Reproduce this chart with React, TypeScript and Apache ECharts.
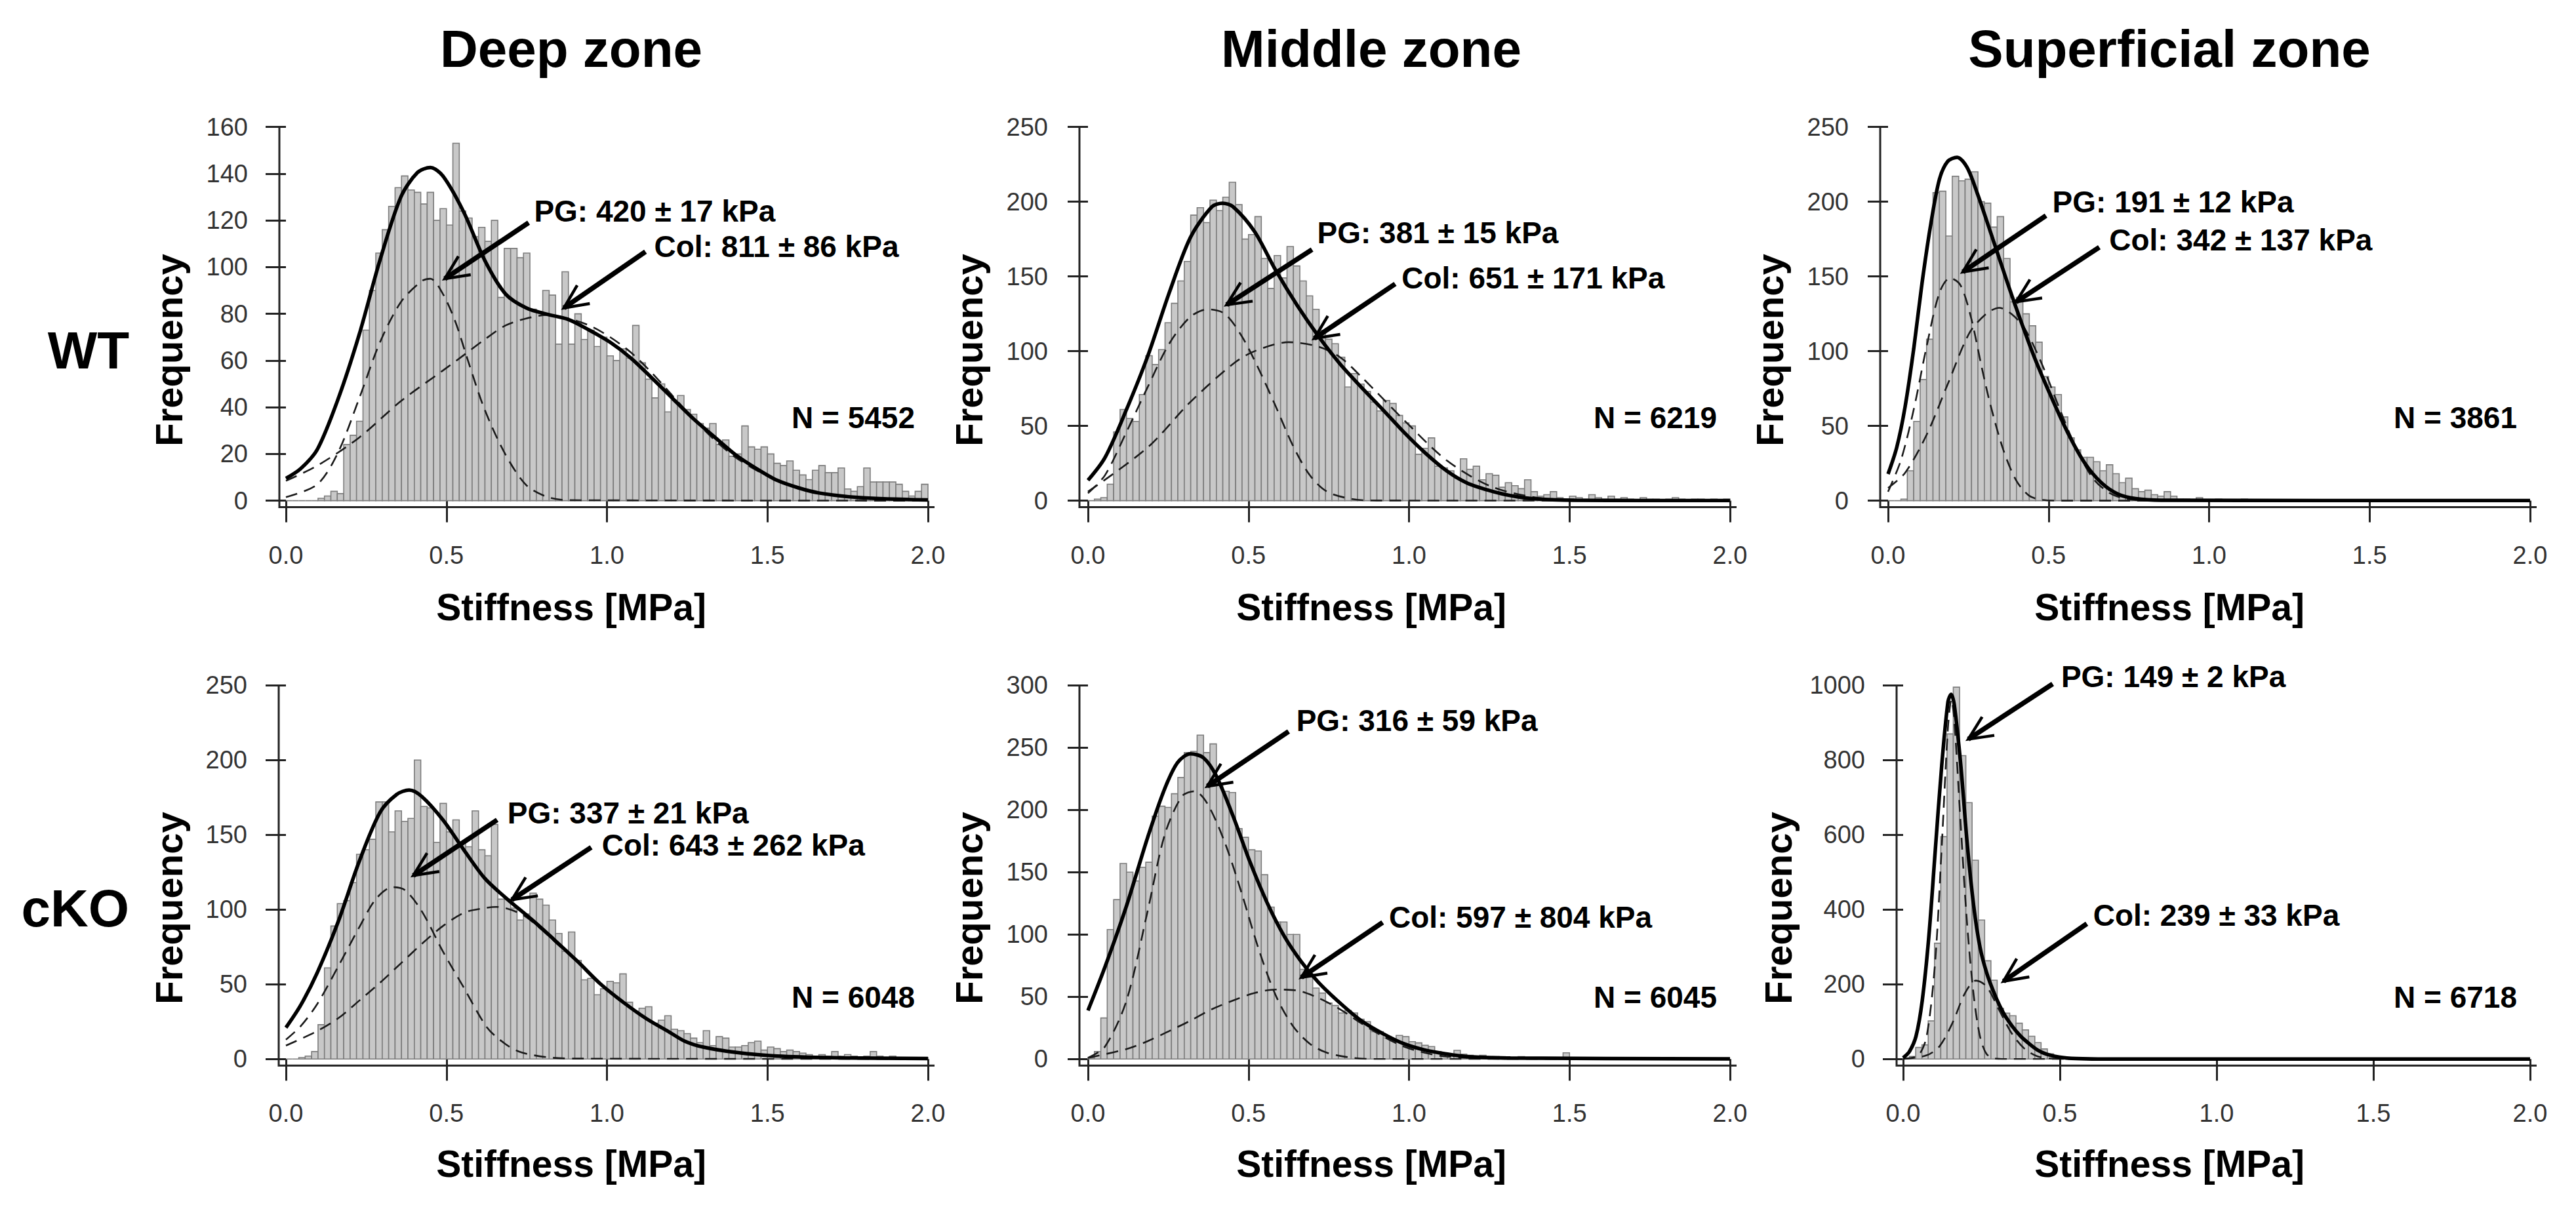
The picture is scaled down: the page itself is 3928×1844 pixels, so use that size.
import React, { useEffect, useRef } from "react";
import * as echarts from "echarts";

// ---------------- data ----------------
const BIN = 0.02;
const COL_TITLES = ["Deep zone", "Middle zone", "Superficial zone"];
const ROW_LABELS = ["WT", "cKO"];
const X_LABEL = "Stiffness [MPa]";
const Y_LABEL = "Frequency";

// histogram counts, 100 bins of 0.02 MPa from 0 to 2.0
const countsWTDeep = [
  0, 0, 0, 0, 0, 1, 2, 4, 3, 24,
  28, 34, 73, 90, 106, 116, 126, 134, 139, 133,
  132, 127, 132, 120, 125, 118, 153, 124, 121, 113,
  117, 111, 120, 87, 108, 108, 104, 106, 82, 81,
  90, 88, 67, 98, 67, 80, 69, 73, 66, 70,
  62, 60, 65, 61, 75, 59, 52, 44, 50, 38,
  43, 45, 39, 37, 33, 31, 33, 24, 26, 19,
  20, 32, 23, 22, 23, 20, 16, 15, 17, 13,
  11, 9, 13, 15, 12, 12, 14, 5, 4, 6,
  14, 8, 8, 8, 8, 7, 4, 2, 4, 7,
];
const countsWTMiddle = [
  0, 1, 2, 11, 46, 61, 55, 53, 71, 97,
  91, 101, 119, 132, 147, 160, 191, 196, 186, 201,
  194, 203, 213, 198, 175, 178, 190, 162, 142, 164,
  149, 170, 157, 147, 137, 128, 114, 108, 105, 96,
  76, 85, 78, 73, 66, 60, 67, 65, 57, 52,
  50, 31, 35, 42, 23, 22, 20, 15, 28, 21,
  23, 14, 18, 17, 9, 12, 10, 8, 14, 6,
  3, 4, 6, 2, 1, 3, 2, 1, 4, 2,
  1, 3, 1, 2, 1, 0, 2, 1, 1, 0,
  1, 2, 1, 0, 1, 1, 0, 1, 0, 1,
];
const countsWTSuperficial = [
  0, 0, 1, 20, 53, 81, 108, 206, 207, 177,
  217, 214, 215, 220, 200, 199, 183, 190, 162, 133,
  136, 125, 117, 106, 83, 76, 71, 56, 42, 34,
  29, 29, 26, 20, 24, 18, 12, 15, 8, 6,
  7, 4, 3, 6, 3, 1, 1, 0, 2, 0,
  0, 1, 0, 0, 0, 1, 0, 0, 0, 0,
  0, 0, 0, 0, 0, 0, 0, 0, 0, 0,
  0, 0, 0, 0, 0, 0, 0, 0, 0, 0,
  0, 0, 0, 0, 0, 0, 0, 0, 0, 0,
  0, 0, 0, 0, 0, 0, 0, 0, 0, 0,
];
const countsKODeep = [
  0, 0, 1, 2, 5, 23, 61, 89, 104, 106,
  118, 137, 140, 147, 172, 172, 152, 166, 159, 161,
  200, 169, 168, 145, 171, 152, 160, 145, 142, 166,
  140, 136, 157, 107, 107, 101, 93, 97, 111, 107,
  103, 93, 84, 72, 85, 66, 53, 54, 43, 47,
  52, 51, 57, 38, 32, 34, 35, 24, 26, 29,
  20, 19, 17, 14, 11, 19, 9, 15, 14, 8,
  8, 9, 11, 12, 6, 8, 7, 5, 6, 5,
  4, 3, 2, 3, 2, 5, 2, 3, 2, 1,
  2, 5, 2, 1, 2, 1, 1, 1, 0, 1,
];
const countsKOMiddle = [
  1, 6, 33, 104, 128, 157, 150, 143, 154, 158,
  195, 203, 202, 213, 226, 246, 247, 260, 246, 253,
  220, 215, 214, 185, 178, 168, 167, 148, 122, 110,
  110, 100, 100, 72, 66, 57, 53, 45, 43, 37,
  39, 37, 32, 30, 22, 22, 17, 16, 19, 18,
  14, 13, 11, 10, 6, 5, 4, 7, 4, 3,
  2, 3, 1, 2, 2, 1, 1, 2, 1, 0,
  1, 1, 0, 1, 5, 0, 0, 1, 0, 1,
  0, 0, 1, 0, 0, 1, 0, 0, 0, 1,
  0, 0, 0, 0, 0, 0, 0, 0, 0, 0,
];
const countsKOSuperficial = [
  3, 7, 31, 38, 102, 310, 595, 870, 995, 812,
  686, 532, 372, 263, 211, 136, 123, 116, 96, 78,
  61, 44, 27, 14, 7, 3, 2, 1, 1, 0,
  1, 0, 1, 0, 0, 0, 0, 0, 0, 0,
  0, 0, 0, 0, 0, 0, 0, 0, 0, 0,
  0, 0, 0, 0, 0, 0, 0, 0, 0, 0,
  0, 0, 0, 0, 0, 0, 0, 0, 0, 0,
  0, 0, 0, 0, 0, 0, 0, 0, 0, 0,
  0, 0, 0, 0, 0, 0, 0, 0, 0, 0,
  0, 0, 0, 0, 0, 0, 0, 0, 0, 0,
];

// fitted curves [stiffness, frequency]
const fitWTDeep = [[0, 9.5], [0.046, 13.7], [0.098, 22], [0.163, 43.7], [0.228, 71], [0.293, 103], [0.358, 130], [0.41, 140.5], [0.45, 142.6], [0.489, 139], [0.554, 123.5], [0.619, 103], [0.684, 88.5], [0.749, 82.5], [0.814, 79.8], [0.879, 77.6], [0.945, 73], [1.01, 67.8], [1.075, 61], [1.14, 52.5], [1.205, 43.7], [1.27, 35], [1.335, 27.3], [1.4, 19.7], [1.466, 13.7], [1.53, 8.7], [1.596, 5.5], [1.66, 3.3], [1.79, 1.3], [2.0, 0.3]];
const pgWTDeep = [[0, 1.5], [0.098, 7], [0.163, 20.8], [0.228, 43.7], [0.293, 67.8], [0.358, 85], [0.423, 94], [0.45, 95], [0.489, 88.5], [0.528, 76.5], [0.567, 60], [0.619, 39], [0.684, 19.7], [0.749, 6.6], [0.814, 1.6], [0.88, 0.2], [2.0, 0]];
const colWTDeep = [[0, 8.5], [0.098, 15], [0.228, 27], [0.358, 42.6], [0.489, 55.7], [0.554, 62.3], [0.619, 69], [0.684, 75], [0.749, 78], [0.814, 79.5], [0.879, 78], [0.945, 75], [1.01, 70], [1.075, 63.4], [1.14, 54.7], [1.205, 44.8], [1.27, 35], [1.335, 26], [1.4, 18.6], [1.466, 13], [1.53, 8.7], [1.66, 3.3], [1.79, 1], [2.0, 0.3]];

const fitWTMiddle = [[0, 13.6], [0.053, 28.8], [0.12, 61], [0.186, 96.6], [0.253, 139], [0.319, 176], [0.386, 196.6], [0.419, 199], [0.452, 196.6], [0.519, 180], [0.585, 154], [0.652, 130.5], [0.718, 110], [0.785, 91.5], [0.851, 76], [0.918, 61], [0.984, 45.8], [1.05, 32], [1.117, 20], [1.18, 11.9], [1.25, 6.8], [1.316, 3.4], [1.383, 1.4], [1.516, 0.3], [2.0, 0]];
const pgWTMiddle = [[0, 5], [0.053, 17], [0.12, 46], [0.186, 76], [0.253, 105], [0.319, 123], [0.372, 128], [0.426, 125], [0.479, 110], [0.532, 88], [0.585, 63], [0.638, 37], [0.691, 17], [0.745, 6], [0.824, 1], [0.9, 0.1], [2.0, 0]];
const colWTMiddle = [[0, 6], [0.186, 35.6], [0.319, 66], [0.452, 91.5], [0.519, 100], [0.625, 106], [0.718, 103], [0.785, 96], [0.851, 83], [0.984, 54], [1.117, 27], [1.25, 10], [1.383, 2.5], [1.516, 0.5], [2.0, 0]];

const fitWTSuperficial = [[0, 17.8], [0.027, 35.6], [0.053, 62.7], [0.08, 101.7], [0.106, 145.8], [0.133, 184.8], [0.16, 215], [0.186, 227], [0.215, 229.7], [0.246, 223], [0.279, 205], [0.319, 179.7], [0.359, 154], [0.399, 129], [0.452, 98], [0.505, 71], [0.559, 45.8], [0.612, 25.4], [0.665, 11.9], [0.718, 4.2], [0.771, 1.4], [0.851, 0.3], [2.0, 0]];
const pgWTSuperficial = [[0, 6], [0.04, 27], [0.08, 61], [0.12, 103], [0.16, 139], [0.193, 149], [0.226, 144], [0.259, 122], [0.293, 88], [0.319, 64], [0.359, 34], [0.399, 13.6], [0.439, 3.4], [0.48, 0.5], [0.55, 0], [2.0, 0]];
const colWTSuperficial = [[0, 8.5], [0.053, 18.6], [0.12, 44], [0.186, 78], [0.253, 112], [0.306, 125], [0.346, 129], [0.386, 124.6], [0.426, 115], [0.479, 91.5], [0.532, 62.7], [0.585, 35.6], [0.638, 15], [0.691, 5], [0.745, 1], [0.82, 0], [2.0, 0]];

const fitKODeep = [[0, 21], [0.046, 36], [0.098, 58], [0.163, 92], [0.228, 132], [0.293, 165], [0.345, 177], [0.384, 180], [0.423, 175.7], [0.489, 160], [0.554, 140], [0.619, 121], [0.684, 108], [0.769, 92.7], [0.84, 79], [0.91, 65], [0.981, 50], [1.052, 37.8], [1.123, 27], [1.194, 18.1], [1.242, 12], [1.3, 8], [1.4, 4.5], [1.53, 2], [1.73, 0.8], [2.0, 0.3]];
const pgKODeep = [[0, 13], [0.046, 22], [0.098, 37], [0.163, 62], [0.228, 88], [0.28, 107], [0.332, 115], [0.371, 113], [0.423, 99], [0.489, 72], [0.554, 47.8], [0.627, 21], [0.684, 10], [0.733, 4.5], [0.814, 1.2], [0.9, 0.3], [2.0, 0]];
const colKODeep = [[0, 9], [0.098, 18.8], [0.163, 27.3], [0.228, 39], [0.293, 51], [0.358, 64], [0.423, 77], [0.489, 89], [0.556, 98], [0.619, 101], [0.655, 101.8], [0.733, 97], [0.8, 86], [0.84, 78], [0.91, 64.5], [0.981, 49.8], [1.052, 37.6], [1.123, 27], [1.194, 18], [1.242, 12], [1.3, 8], [1.4, 4.5], [1.53, 2], [1.73, 0.8], [2.0, 0.3]];

const fitKOMiddle = [[0, 39], [0.053, 74], [0.12, 123], [0.186, 178], [0.239, 217], [0.279, 238], [0.319, 245], [0.359, 242], [0.399, 227.6], [0.452, 195], [0.505, 158], [0.559, 125], [0.612, 98.4], [0.665, 78], [0.718, 61.5], [0.785, 45], [0.851, 30.8], [0.918, 20.5], [0.984, 12.3], [1.05, 7.2], [1.117, 4.1], [1.18, 2], [1.316, 0.8], [2.0, 0.2]];
const pgKOMiddle = [[0, 1], [0.053, 10], [0.12, 47], [0.186, 119], [0.239, 180], [0.293, 211], [0.332, 215], [0.372, 205], [0.426, 174], [0.479, 133], [0.532, 88], [0.585, 51], [0.638, 26.6], [0.691, 12.3], [0.745, 5], [0.824, 1], [0.9, 0], [2.0, 0]];
const colKOMiddle = [[0, 1], [0.12, 8], [0.186, 14.4], [0.253, 22.5], [0.319, 30.8], [0.386, 40], [0.452, 47], [0.519, 53], [0.585, 55.8], [0.652, 55], [0.718, 49], [0.785, 40], [0.851, 28.7], [0.918, 18.4], [0.984, 10], [1.05, 5], [1.117, 2], [1.25, 0.6], [2.0, 0]];

const fitKOSuperficial = [[0, 3.4], [0.02, 20], [0.041, 61], [0.061, 157], [0.082, 328], [0.102, 553], [0.123, 785], [0.143, 956], [0.153, 976], [0.163, 949], [0.184, 785], [0.204, 580], [0.225, 410], [0.245, 300], [0.266, 232], [0.293, 171], [0.32, 123], [0.347, 89], [0.375, 61], [0.402, 41], [0.429, 24], [0.456, 13.6], [0.497, 5.5], [0.552, 1.4], [0.65, 0], [2.0, 0]];
const pgKOSuperficial = [[0, 1], [0.048, 10], [0.075, 61], [0.102, 259], [0.123, 567], [0.143, 887], [0.154, 962], [0.163, 908], [0.184, 621], [0.204, 362], [0.225, 171], [0.245, 61], [0.266, 13.6], [0.293, 1.4], [0.33, 0], [2.0, 0]];
const colKOSuperficial = [[0, 0], [0.075, 10], [0.116, 34], [0.157, 96], [0.198, 177.5], [0.232, 210], [0.266, 194.5], [0.307, 130], [0.347, 68], [0.388, 27], [0.429, 7], [0.47, 1.4], [0.55, 0], [2.0, 0]];

const pgLabels = ["PG: 420 ± 17 kPa", "PG: 381 ± 15 kPa", "PG: 191 ± 12 kPa", "PG: 337 ± 21 kPa", "PG: 316 ± 59 kPa", "PG: 149 ± 2 kPa"];
const colLabels = ["Col: 811 ± 86 kPa", "Col: 651 ± 171 kPa", "Col: 342 ± 137 kPa", "Col: 643 ± 262 kPa", "Col: 597 ± 804 kPa", "Col: 239 ± 33 kPa"];
const nLabels = ["N = 5452", "N = 6219", "N = 3861", "N = 6048", "N = 6045", "N = 6718"];
const yMaxes = [160, 250, 250, 250, 300, 1000];
const yIntervals = [20, 50, 50, 50, 50, 200];

// ---------------- layout ----------------
const W = 3928;
const H = 1844;
const FONT = '"Liberation Sans", Arial, Helvetica, sans-serif';
const AXIS_COLOR = "#222";
const BAR_FILL = "#c8c8c8";
const BAR_STROKE = "#7c7c7c";

const LAYOUT = [
  { x0: 436, x2: 1415, yTop: 193.6, y0: 763.6, yOff: 10, ylabX: 257.5 },
  { x0: 1659, x2: 2638, yTop: 193.6, y0: 763.6, yOff: 13, ylabX: 1477.5 },
  { x0: 2879, x2: 3858, yTop: 193.6, y0: 763.6, yOff: 12, ylabX: 2698.5 },
  { x0: 436, x2: 1415, yTop: 1045.3, y0: 1615.3, yOff: 11, ylabX: 257.5 },
  { x0: 1659, x2: 2638, yTop: 1045.3, y0: 1615.3, yOff: 13, ylabX: 1477.5 },
  { x0: 2902, x2: 3858, yTop: 1045.3, y0: 1615.3, yOff: 10, ylabX: 2711 },
];
const COL_CENTERS = [871, 2091, 3308];
const TITLE_Y = 74;
const XLAB_Y = [926, 1775];
const ROW_Y = [534, 1385];
const ROW_LABEL_RIGHT = 197;
const N_DY = [127, 94];

// annotation anchors in data coordinates: [textX, textY] and arrows [startX, startY, tipX, tipY]
const ANNOT = [
  { pg: [0.773, 124], col: [1.147, 108.8], pgArrow: [0.756, 119, 0.495, 95], colArrow: [1.12, 106.6, 0.866, 82.5] },
  { pg: [0.714, 179], col: [0.977, 149], pgArrow: [0.698, 168, 0.432, 131], colArrow: [0.957, 145, 0.705, 108.5] },
  { pg: [0.512, 200], col: [0.689, 174.6], pgArrow: [0.492, 190.7, 0.233, 153], colArrow: [0.658, 169.5, 0.399, 133] },
  { pg: [0.69, 164.6], col: [0.984, 143], pgArrow: [0.658, 160, 0.397, 122.8], colArrow: [0.951, 141.6, 0.704, 106.6] },
  { pg: [0.649, 271.6], col: [0.9375, 113.8], pgArrow: [0.625, 263, 0.372, 219], colArrow: [0.918, 109.7, 0.665, 65.6] },
  { pg: [0.504, 1024], col: [0.606, 385.6], pgArrow: [0.477, 1004, 0.208, 856], colArrow: [0.586, 362, 0.32, 208] },
];

const PANELS = [
  { counts: countsWTDeep, fit: fitWTDeep, pg: pgWTDeep, col: colWTDeep },
  { counts: countsWTMiddle, fit: fitWTMiddle, pg: pgWTMiddle, col: colWTMiddle },
  { counts: countsWTSuperficial, fit: fitWTSuperficial, pg: pgWTSuperficial, col: colWTSuperficial },
  { counts: countsKODeep, fit: fitKODeep, pg: pgKODeep, col: colKODeep },
  { counts: countsKOMiddle, fit: fitKOMiddle, pg: pgKOMiddle, col: colKOMiddle },
  { counts: countsKOSuperficial, fit: fitKOSuperficial, pg: pgKOSuperficial, col: colKOSuperficial },
];

function textEl(text: string, x: number, y: number, size: number, opts: any = {}) {
  return {
    type: "text",
    x,
    y,
    z: 100,
    rotation: opts.rotation || 0,
    silent: true,
    style: {
      text,
      font: `${opts.weight || "bold"} ${size}px ${FONT}`,
      fill: opts.fill || "#000",
      align: opts.align || "center",
      verticalAlign: "middle",
    },
  };
}

export default function App() {
  const ref = useRef<HTMLDivElement>(null);

  useEffect(() => {
    if (!ref.current) return;
    const chart = echarts.init(ref.current, null, { renderer: "svg" });

    const grids: any[] = [];
    const xAxes: any[] = [];
    const yAxes: any[] = [];
    const series: any[] = [];

    PANELS.forEach((p, i) => {
      const L = LAYOUT[i];
      grids.push({ left: L.x0, top: L.yTop, width: L.x2 - L.x0, height: L.y0 - L.yTop, containLabel: false });
      xAxes.push({
        type: "value",
        gridIndex: i,
        min: 0,
        max: 2,
        interval: 0.5,
        offset: 10,
        axisLine: { show: false },
        axisTick: { show: true, length: 33, lineStyle: { color: AXIS_COLOR, width: 3 } },
        axisLabel: {
          margin: 54,
          fontSize: 38,
          fontFamily: FONT,
          color: "#333",
          formatter: (v: number) => v.toFixed(1),
        },
        splitLine: { show: false },
      });
      yAxes.push({
        type: "value",
        gridIndex: i,
        min: 0,
        max: yMaxes[i],
        interval: yIntervals[i],
        offset: L.yOff,
        axisLine: { show: false },
        axisTick: { show: true, length: 31, lineStyle: { color: AXIS_COLOR, width: 3 } },
        axisLabel: {
          margin: 48,
          fontSize: 38,
          fontFamily: FONT,
          color: "#333",
          formatter: (v: number) => String(Math.round(v)),
        },
        splitLine: { show: false },
      });

      series.push({
        type: "custom",
        xAxisIndex: i,
        yAxisIndex: i,
        z: 2,
        silent: true,
        encode: { x: [0, 1], y: 2 },
        data: p.counts.map((c, k) => [k * BIN, (k + 1) * BIN, c]),
        renderItem: (params: any, api: any) => {
          const a = api.coord([api.value(0), api.value(2)]);
          const b = api.coord([api.value(1), 0]);
          return {
            type: "rect",
            shape: { x: a[0], y: a[1], width: b[0] - a[0], height: b[1] - a[1] },
            style: { fill: BAR_FILL, stroke: BAR_STROKE, lineWidth: 1.6 },
          };
        },
      });
      const dashed = { color: "#1a1a1a", width: 2.6, type: [18, 11] };
      series.push({
        type: "line", xAxisIndex: i, yAxisIndex: i, data: p.pg, showSymbol: false, symbol: "none",
        smooth: 0.3, z: 3, silent: true, lineStyle: dashed,
      });
      series.push({
        type: "line", xAxisIndex: i, yAxisIndex: i, data: p.col, showSymbol: false, symbol: "none",
        smooth: 0.3, z: 3, silent: true, lineStyle: dashed,
      });
      series.push({
        type: "line", xAxisIndex: i, yAxisIndex: i, data: p.fit, showSymbol: false, symbol: "none",
        smooth: 0.3, z: 4, silent: true, lineStyle: { color: "#000", width: 5.5 },
      });
    });

    chart.setOption({
      animation: false,
      backgroundColor: "#fff",
      grid: grids,
      xAxis: xAxes,
      yAxis: yAxes,
      series,
    });

    const g: any[] = [];
    // titles and row labels
    COL_TITLES.forEach((t, c) => g.push(textEl(t, COL_CENTERS[c], TITLE_Y, 80)));
    ROW_LABELS.forEach((t, r) => g.push(textEl(t, ROW_LABEL_RIGHT, ROW_Y[r], 80, { align: "right" })));

    PANELS.forEach((p, i) => {
      const L = LAYOUT[i];
      const row = i < 3 ? 0 : 1;
      const col = i % 3;
      const ax = L.x0 - L.yOff;
      const ay = L.y0 + 10;
      // L-shaped frame
      g.push({
        type: "polyline",
        z: 90,
        silent: true,
        shape: { points: [[ax, L.yTop], [ax, ay], [L.x2 + 10, ay]] },
        style: { stroke: AXIS_COLOR, lineWidth: 3, fill: null, lineJoin: "miter", lineCap: "butt" },
      });
      g.push(textEl(X_LABEL, COL_CENTERS[col], XLAB_Y[row], 57));
      g.push(textEl(Y_LABEL, L.ylabX, ROW_Y[row], 58, { rotation: Math.PI / 2 }));
      g.push(textEl(nLabels[i], L.x2 - 20, L.y0 - N_DY[row], 46, { align: "right" }));

      const A = ANNOT[i];
      const toPx = (x: number, y: number) => chart.convertToPixel({ gridIndex: i } as any, [x, y]) as number[];
      const pgP = toPx(A.pg[0], A.pg[1]);
      const colP = toPx(A.col[0], A.col[1]);
      g.push(textEl(pgLabels[i], pgP[0], pgP[1], 46, { align: "left" }));
      g.push(textEl(colLabels[i], colP[0], colP[1], 46, { align: "left" }));

      [A.pgArrow, A.colArrow].forEach((ar) => {
        const s = toPx(ar[0], ar[1]);
        const t = toPx(ar[2], ar[3]);
        const th = Math.atan2(s[1] - t[1], s[0] - t[0]);
        const len = 40;
        const ang = (25 * Math.PI) / 180;
        const l1 = [t[0] + len * Math.cos(th + ang), t[1] + len * Math.sin(th + ang)];
        const l2 = [t[0] + len * Math.cos(th - ang), t[1] + len * Math.sin(th - ang)];
        g.push({
          type: "line",
          z: 95,
          silent: true,
          shape: { x1: s[0], y1: s[1], x2: t[0], y2: t[1] },
          style: { stroke: "#000", lineWidth: 7.5, lineCap: "butt" },
        });
        g.push({
          type: "polyline",
          z: 95,
          silent: true,
          shape: { points: [l1, t, l2] },
          style: { stroke: "#000", lineWidth: 4.5, fill: null, lineJoin: "miter" },
        });
      });
    });

    chart.setOption({ graphic: g });

    return () => chart.dispose();
  }, []);

  return (
    <div
      ref={ref}
      style={{ position: "fixed", left: 0, top: 0, width: W, height: H, background: "#fff" }}
    />
  );
}
